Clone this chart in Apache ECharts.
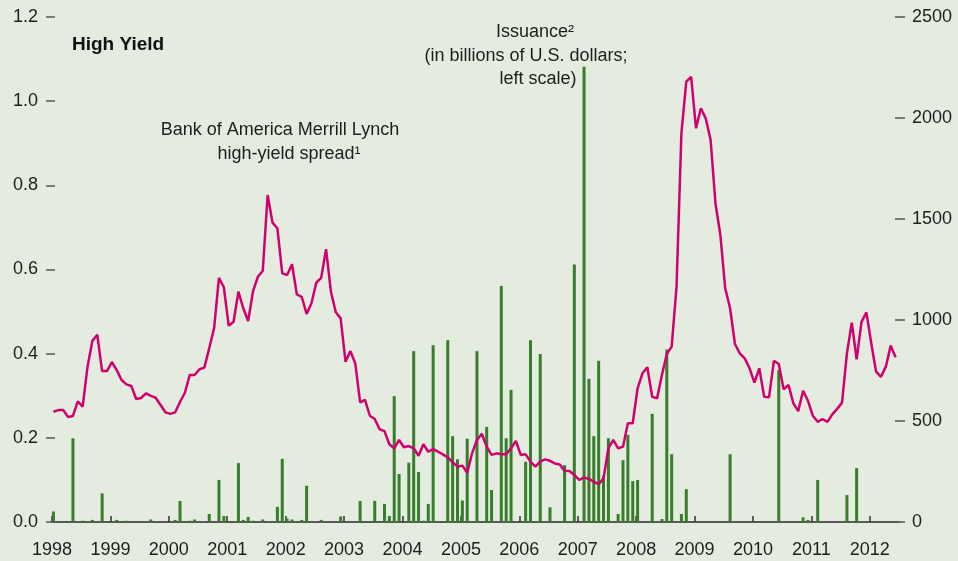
<!DOCTYPE html>
<html>
<head>
	<meta http-equiv="Content-Type" content="text/html;charset=utf-8">
	<title>High Yield</title>
	<script src="https://cdn.jsdelivr.net/npm/echarts@6/dist/echarts.min.js"></script>
	<style>
	  body{
		margin: 0;
		background: #e4ebdf;
	  }
	  #chart{
		width: 958px;
		height: 561px;
	  }
	</style>
</head>
<body>
<div id="chart"></div>
<script>
	// monthly, Jan 1998 onwards
	var startYear = 1998;
	var yearTicks = [1998, 1999, 2000, 2001, 2002, 2003, 2004, 2005, 2006, 2007, 2008, 2009, 2010, 2011, 2012];
	var leftTicks = [0, 0.2, 0.4, 0.6, 0.8, 1.0, 1.2];
	var rightTicks = [0, 500, 1000, 1500, 2000, 2500];

	// high-yield spread (right scale)
	var spread = [
		546, 554, 554, 520, 525, 597, 571, 769, 897, 927, 747, 747,
		792, 752, 703, 681, 673, 609, 614, 637, 624, 615, 579, 543,
		535, 543, 594, 640, 728, 728, 756, 764, 860, 959, 1209, 1162,
		972, 991, 1140, 1058, 995, 1143, 1214, 1244, 1619, 1482, 1454, 1231,
		1223, 1276, 1127, 1115, 1030, 1083, 1185, 1209, 1351, 1140, 1038, 1008,
		793, 846, 785, 592, 604, 526, 510, 459, 450, 385, 365, 406,
		370, 376, 365, 328, 385, 348, 361, 348, 335, 320, 296, 274,
		279, 244, 340, 406, 437, 373, 332, 340, 335, 335, 365, 401,
		332, 335, 299, 274, 299, 310, 303, 290, 285, 254, 252, 233,
		208, 221, 213, 200, 187, 216, 365, 406, 365, 373, 489, 489,
		662, 736, 766, 620, 612, 728, 832, 868, 1165, 1924, 2180, 2204,
		1949, 2048, 1998, 1891, 1577, 1421, 1157, 1058, 881, 835, 810, 761,
		690, 761, 620, 617, 798, 782, 657, 678, 588, 549, 650, 600,
		526, 496, 510, 496, 533, 560, 591, 835, 987, 805, 991, 1038,
		885, 744, 719, 769, 873, 815
	];

	// issuance (left scale)
	var issuance = [
		0.025, 0, 0, 0, 0.199, 0, 0.003, 0, 0.005, 0, 0.068, 0,
		0, 0.005, 0, 0.003, 0, 0, 0, 0, 0.006, 0, 0, 0,
		0, 0.005, 0.05, 0, 0.003, 0.006, 0, 0, 0.019, 0, 0.1, 0.014,
		0, 0, 0.14, 0.005, 0.012, 0.003, 0, 0.006, 0, 0, 0.036, 0.15,
		0.008, 0.006, 0, 0.005, 0.086, 0, 0, 0.005, 0, 0, 0, 0.013,
		0, 0, 0, 0.05, 0, 0, 0.05, 0, 0.043, 0.014, 0.299, 0.114,
		0, 0.141, 0.406, 0.119, 0.003, 0.043, 0.42, 0, 0, 0.432, 0.204, 0.149,
		0.051, 0.198, 0, 0.406, 0, 0.226, 0.076, 0, 0.561, 0.199, 0.314, 0,
		0, 0.143, 0.432, 0, 0.399, 0, 0.035, 0, 0, 0.135, 0, 0.612,
		0, 1.082, 0.34, 0.204, 0.383, 0.11, 0.199, 0, 0.019, 0.147, 0.207, 0.097,
		0.1, 0, 0, 0.257, 0, 0.007, 0.41, 0.161, 0, 0.019, 0.078, 0,
		0, 0, 0, 0, 0, 0, 0, 0.161, 0, 0, 0, 0,
		0, 0, 0, 0, 0, 0.361, 0, 0, 0, 0, 0.011, 0.005,
		0, 0.1, 0, 0, 0, 0, 0, 0.064, 0, 0.128, 0, 0,
		0, 0, 0, 0, 0, 0
	];

	var font = '"Liberation Sans", Arial, Helvetica, sans-serif';
	var textColor = '#1e1e1e';

	function monthX(i){
		return startYear + (i + 0.3) / 12;
	}

	var spreadData = spread.map(function(v, i){ return [monthX(i), v]; });
	var issuanceData = issuance.map(function(v, i){ return [monthX(i), v]; });

	// annotation lines: text, centre x, centre y
	var notes = [
		['Bank of America Merrill Lynch', 280, 130],
		['high-yield spread\u00b9', 289, 154],
		['Issuance\u00b2', 535, 32],
		['(in billions of U.S. dollars;', 526, 56],
		['left scale)', 538, 79]
	];

	var graphics = notes.map(function(n){
		return {
			type: 'text',
			x: n[1],
			y: n[2],
			style: {
				text: n[0],
				font: '18px ' + font,
				fill: textColor,
				textAlign: 'center',
				textVerticalAlign: 'middle',
				align: 'center',
				verticalAlign: 'middle'
			}
		};
	});
	graphics.push({
		type: 'text',
		x: 72,
		y: 45,
		style: {
			text: 'High Yield',
			font: 'bold 19px ' + font,
			fill: '#111',
			textAlign: 'left',
			textVerticalAlign: 'middle',
			align: 'left',
			verticalAlign: 'middle'
		}
	});

	var option = {
		backgroundColor: '#e4ebdf',
		animation: false,
		grid: {
			left: 52,
			right: 59,
			top: 17,
			bottom: 39
		},
		xAxis: {
			type: 'value',
			min: startYear,
			max: 2012.5,
			interval: 1,
			axisLine: { lineStyle: { color: '#2a2a2a', width: 1.5 } },
			axisTick: {
				inside: true,
				length: 6,
				customValues: yearTicks,
				lineStyle: { color: '#333', width: 1.5 }
			},
			axisLabel: {
				customValues: yearTicks,
				margin: 19,
				color: textColor,
				fontSize: 18,
				fontFamily: font,
				formatter: function(v){ return String(v); }
			},
			splitLine: { show: false }
		},
		yAxis: [
			{
				type: 'value',
				position: 'left',
				offset: -3,
				min: 0,
				max: 1.2,
				interval: 0.2,
				axisLine: { show: false },
				axisTick: { show: true, length: 9, lineStyle: { color: '#555', width: 1.5 } },
				axisLabel: {
					customValues: leftTicks,
					margin: 17,
					color: textColor,
					fontSize: 18,
					fontFamily: font,
					formatter: function(v){ return v.toFixed(1); }
				},
				splitLine: { show: false }
			},
			{
				type: 'value',
				position: 'right',
				offset: -4,
				min: 0,
				max: 2500,
				interval: 500,
				axisLine: { show: false },
				axisTick: { show: true, length: 10, lineStyle: { color: '#555', width: 1.5 } },
				axisLabel: {
					customValues: rightTicks,
					margin: 17,
					color: textColor,
					fontSize: 18,
					fontFamily: font,
					formatter: function(v){ return String(v); }
				},
				splitLine: { show: false }
			}
		],
		series: [
			{
				name: 'Issuance',
				type: 'bar',
				yAxisIndex: 0,
				barWidth: 3,
				data: issuanceData,
				itemStyle: { color: '#377d2b' },
				z: 2
			},
			{
				name: 'Spread',
				type: 'line',
				yAxisIndex: 1,
				data: spreadData,
				symbol: 'none',
				lineStyle: { color: '#d0006f', width: 2.5 },
				z: 3
			}
		],
		graphic: graphics
	};

	var myChart = echarts.init(document.getElementById('chart'));
	myChart.setOption(option);
</script>
</body>
</html>
